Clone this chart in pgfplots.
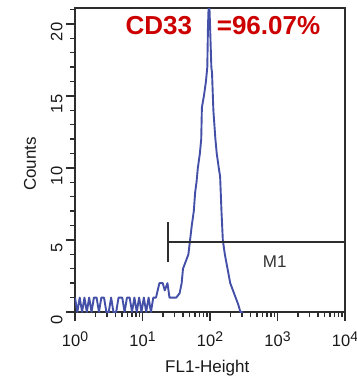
\documentclass[border=0pt]{standalone}
\usepackage{pgfplots}
\pgfplotsset{compat=1.18}
\usepackage{fontspec}
\setmainfont{Liberation Sans}
\definecolor{histblue}{RGB}{68,80,168}
\definecolor{axgray}{RGB}{45,45,45}
\definecolor{titlered}{RGB}{204,0,0}
\begin{document}
\begin{tikzpicture}
\path[use as bounding box] (-75pt,-64pt) rectangle (282pt,312pt);
\begin{axis}[
  at={(0,0)}, anchor=south west,
  scale only axis, width=270pt, height=304pt,
  xmin=0, xmax=4, ymin=0, ymax=21.1,
  axis line style={axgray, line width=2pt},
  tick style={axgray, line width=1.4pt},
  major tick length=9pt, minor tick length=5pt,
  tick align=outside, xtick pos=bottom, ytick pos=left,
  xtick={0,1,2,3,4},
  xticklabels={10\raisebox{0.6ex}{\fontsize{14}{14}\selectfont 0},
               10\raisebox{0.6ex}{\fontsize{14}{14}\selectfont 1},
               10\raisebox{0.6ex}{\fontsize{14}{14}\selectfont 2},
               10\raisebox{0.6ex}{\fontsize{14}{14}\selectfont 3},
               10\raisebox{0.6ex}{\fontsize{14}{14}\selectfont 4}},
  minor xtick={0.301,0.477,0.602,0.699,0.778,0.845,0.903,0.954,
               1.301,1.477,1.602,1.699,1.778,1.845,1.903,1.954,
               2.301,2.477,2.602,2.699,2.778,2.845,2.903,2.954,
               3.301,3.477,3.602,3.699,3.778,3.845,3.903,3.954},
  ytick={0,5,10,15,20},
  minor ytick={1,2,3,4,6,7,8,9,11,12,13,14,16,17,18,19,21},
  /pgf/number format/assume math mode=true,
  ticklabel style={font=\fontsize{16.5}{18}\selectfont, text=black!90},
  yticklabel style={rotate=90, anchor=south, xshift=-8pt},
  xticklabel style={yshift=-7pt},
  xlabel={FL1-Height}, ylabel={Counts},
  label style={font=\fontsize{17}{19}\selectfont, text=black!90},
  xlabel style={at={(axis description cs:0.49,-0.186)}, anchor=center},
  ylabel style={at={(axis description cs:-0.167,0.487)}, anchor=center, rotate=0},
  clip=true,
]
\addplot[histblue, line width=1.9pt, line join=round] coordinates {
(0.00,1) (0.035,0) (0.07,1) (0.105,0) (0.14,1) (0.175,0) (0.21,1) (0.245,0)
(0.28,1) (0.32,1) (0.355,0) (0.39,1) (0.43,1) (0.465,0) (0.50,0) (0.535,1)
(0.57,0) (0.61,0) (0.645,1) (0.70,1) (0.735,0) (0.77,1) (0.81,1) (0.845,0)
(0.88,1) (0.915,0) (0.95,1) (0.985,0) (1.02,1) (1.055,0) (1.09,1) (1.125,0)
(1.16,1) (1.20,1) (1.25,2) (1.30,2) (1.33,1.5) (1.37,2) (1.40,1) (1.45,1) (1.50,1)
(1.55,1.3) (1.58,2) (1.60,3) (1.64,3.5) (1.68,4) (1.70,4.8) (1.73,6)
(1.76,7) (1.78,8.3) (1.80,9) (1.82,10) (1.85,11) (1.87,12) (1.88,14.2)
(1.91,15) (1.94,16) (1.96,17) (1.97,19.8) (1.985,22) (2.00,20) (2.02,17)
(2.03,16.6) (2.05,14) (2.08,12) (2.10,11) (2.13,10) (2.15,9.4) (2.17,7)
(2.19,5) (2.22,4) (2.26,3) (2.30,2) (2.34,1.5) (2.38,1) (2.42,0.5)
(2.45,0) (2.49,0)
};
\addplot[axgray, line width=1.7pt] coordinates {(1.38,4.85) (4,4.85)};
\addplot[axgray, line width=1.7pt] coordinates {(1.38,6.25) (1.38,3.45)};
\node[font=\fontsize{17}{19}\selectfont, text=black!80] at (axis cs:2.96,3.5) {M1};
\node[font=\bfseries\fontsize{26}{28}\selectfont, text=titlered] at (rel axis cs:0.548,0.941) {CD33\hspace{0.95em}=96.07\%};
\end{axis}
\end{tikzpicture}
\end{document}
